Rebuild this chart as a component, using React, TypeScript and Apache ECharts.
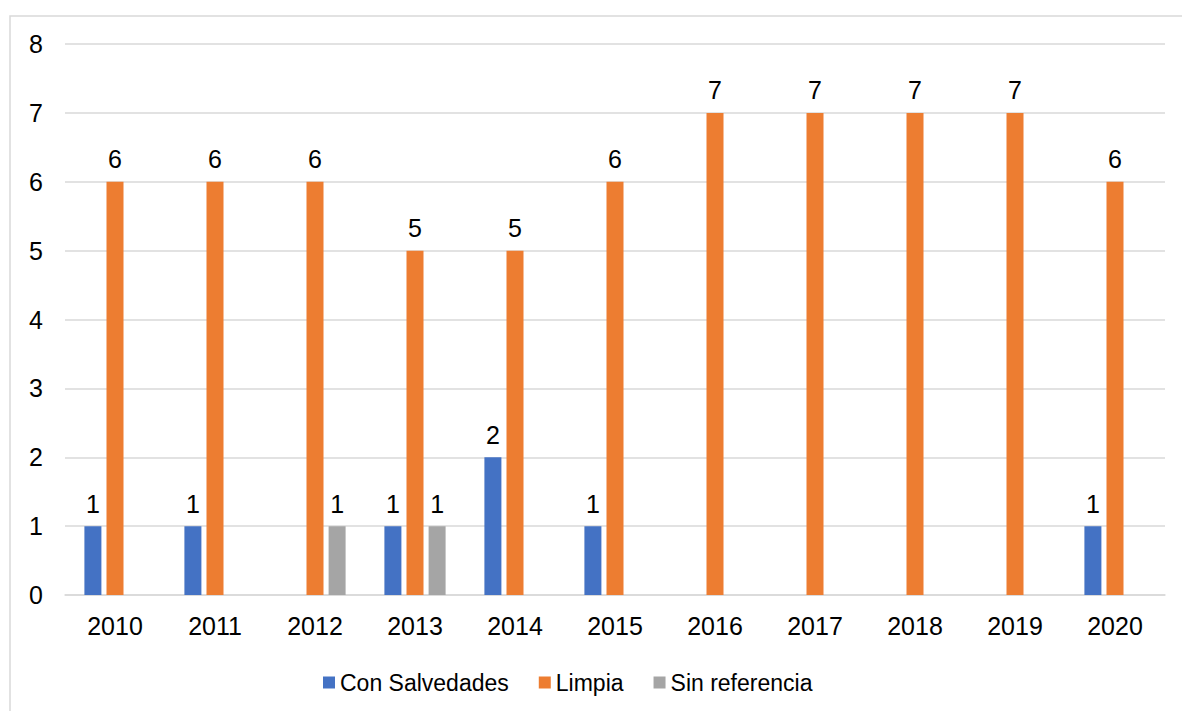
import React, { useEffect, useRef } from "react";
import * as echarts from "echarts";

const years = ["2010", "2011", "2012", "2013", "2014", "2015", "2016", "2017", "2018", "2019", "2020"];
const conSalvedades = [1, 1, null, 1, 2, 1, null, null, null, null, 1];
const limpia = [6, 6, 6, 5, 5, 6, 7, 7, 7, 7, 6];
const sinReferencia = [null, null, 1, 1, null, null, null, null, null, null, null];
const seriesNames = ["Con Salvedades", "Limpia", "Sin referencia"];
const colors = ["#4472C4", "#ED7D31", "#A5A5A5"];

const FONT = "'Liberation Sans', Arial, sans-serif";

export default function App() {
  const ref = useRef<HTMLDivElement>(null);
  useEffect(() => {
    if (!ref.current) return;
    const chart = echarts.init(ref.current, null, { renderer: "svg" });
    const mk = (name: string, data: (number | null)[], color: string) => ({
      name,
      type: "bar",
      data,
      barWidth: 17,
      barGap: "30%",
      itemStyle: { color },
      label: {
        show: true,
        position: "top",
        distance: 10,
        color: "#000",
        fontSize: 25,
        fontFamily: FONT,
      },
    });
    chart.setOption({
      animation: false,
      backgroundColor: "#fff",
      textStyle: { fontFamily: FONT },
      graphic: [
        {
          type: "rect",
          shape: { x: 10, y: 16, width: 1200, height: 800 },
          style: { fill: "none", stroke: "#d9d9d9", lineWidth: 1.5 },
          silent: true,
        },
      ],
      grid: { left: 65, right: 17, top: 44, bottom: 116, containLabel: false },
      legend: {
        left: 318,
        top: 666,
        itemWidth: 12,
        itemHeight: 12,
        itemGap: 30,
        icon: "rect",
        textStyle: { fontSize: 23, color: "#000", fontFamily: FONT },
        data: seriesNames,
      },
      xAxis: {
        type: "category",
        data: years,
        axisLine: { show: true, lineStyle: { color: "#d9d9d9", width: 1.5 } },
        axisTick: { show: false },
        axisLabel: { color: "#000", fontSize: 25, margin: 18, fontFamily: FONT },
      },
      yAxis: {
        type: "value",
        min: 0,
        max: 8,
        interval: 1,
        axisLine: { show: false },
        axisTick: { show: false },
        splitLine: { lineStyle: { color: "#d9d9d9", width: 1.5 } },
        axisLabel: { color: "#000", fontSize: 25, margin: 22, fontFamily: FONT },
      },
      series: [
        mk(seriesNames[0], conSalvedades, colors[0]),
        mk(seriesNames[1], limpia, colors[1]),
        mk(seriesNames[2], sinReferencia, colors[2]),
      ],
    });
    return () => chart.dispose();
  }, []);
  return (
    <div
      ref={ref}
      style={{ position: "fixed", left: 0, top: 0, width: 1182, height: 711, background: "#fff" }}
    />
  );
}
